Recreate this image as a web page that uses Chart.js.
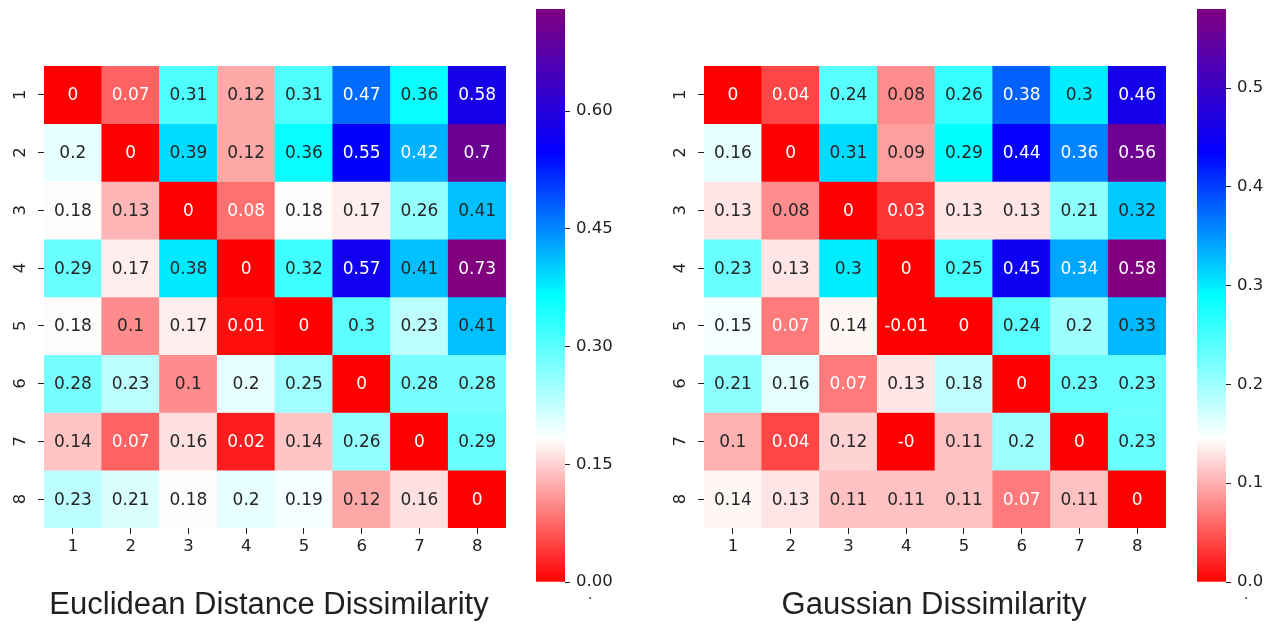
<!DOCTYPE html>
<html>
<head>
<meta charset="utf-8">
<script src="https://cdn.jsdelivr.net/npm/chart.js@4.4.1/dist/chart.umd.min.js"></script>
<style>
  body { margin: 0; background: #fff; width: 1275px; height: 624px; overflow: hidden; position: relative; }
  canvas { position: absolute; top: 0; }
  .title { position: absolute; top: 588px; transform: translateX(-50%); white-space: nowrap;
           font-family: "Liberation Sans", Arial, sans-serif; font-size: 31px; line-height: 31px; color: #231f20; }
  .dot { position: absolute; top: 586px; font-family: "DejaVu Sans"; font-size: 14px; color: #222; }
</style>
</head>
<body>
<canvas id="heatL" width="520" height="624" style="left:0px"></canvas>
<canvas id="barL" width="110" height="624" style="left:520px"></canvas>
<canvas id="heatR" width="520" height="624" style="left:660px"></canvas>
<canvas id="barR" width="94" height="624" style="left:1181px"></canvas>
<div class="title" style="left:269px">Euclidean Distance Dissimilarity</div>
<div class="title" style="left:934px">Gaussian Dissimilarity</div>
<span class="dot" style="left:588px">.</span>
<span class="dot" style="left:1244px">.</span>
<script>
// axis labels
const colLabels = ['1', '2', '3', '4', '5', '6', '7', '8'];
const rowLabels = ['1', '2', '3', '4', '5', '6', '7', '8'];

// Euclidean distance dissimilarity (rows 1..8)
const euclidean = [
  [0, 0.07, 0.31, 0.12, 0.31, 0.47, 0.36, 0.58],
  [0.2, 0, 0.39, 0.12, 0.36, 0.55, 0.42, 0.7],
  [0.18, 0.13, 0, 0.08, 0.18, 0.17, 0.26, 0.41],
  [0.29, 0.17, 0.38, 0, 0.32, 0.57, 0.41, 0.73],
  [0.18, 0.1, 0.17, 0.01, 0, 0.3, 0.23, 0.41],
  [0.28, 0.23, 0.1, 0.2, 0.25, 0, 0.28, 0.28],
  [0.14, 0.07, 0.16, 0.02, 0.14, 0.26, 0, 0.29],
  [0.23, 0.21, 0.18, 0.2, 0.19, 0.12, 0.16, 0]
];

// Gaussian dissimilarity (rows 1..8)
const gaussian = [
  [0, 0.04, 0.24, 0.08, 0.26, 0.38, 0.3, 0.46],
  [0.16, 0, 0.31, 0.09, 0.29, 0.44, 0.36, 0.56],
  [0.13, 0.08, 0, 0.03, 0.13, 0.13, 0.21, 0.32],
  [0.23, 0.13, 0.3, 0, 0.25, 0.45, 0.34, 0.58],
  [0.15, 0.07, 0.14, -0.01, 0, 0.24, 0.2, 0.33],
  [0.21, 0.16, 0.07, 0.13, 0.18, 0, 0.23, 0.23],
  [0.1, 0.04, 0.12, -0, 0.11, 0.2, 0, 0.23],
  [0.14, 0.13, 0.11, 0.11, 0.11, 0.07, 0.11, 0]
];

// colorbar ticks
const euclidTicks = [0, 0.15, 0.30, 0.45, 0.60];
const gaussTicks = [0, 0.1, 0.2, 0.3, 0.4, 0.5];

// red -> white -> cyan -> blue -> purple
const cmapStops = [[255, 0, 0], [255, 255, 255], [0, 255, 255], [0, 0, 255], [128, 0, 128]];

Chart.defaults.font.family = 'DejaVu Sans';

function cmapRGB(t) {
  t = Math.max(0, Math.min(1, t));
  const n = cmapStops.length - 1;
  const i = Math.min(n - 1, Math.floor(t * n));
  const f = t * n - i;
  const a = cmapStops[i], b = cmapStops[i + 1];
  return a.map((c, k) => Math.round(c + (b[k] - c) * f));
}
function rgbStr(c) { return 'rgb(' + c.join(',') + ')'; }

function luminance(c) {
  const lin = c.map(v => { v /= 255; return v <= 0.03928 ? v / 12.92 : Math.pow((v + 0.055) / 1.055, 2.4); });
  return 0.2126 * lin[0] + 0.7152 * lin[1] + 0.0722 * lin[2];
}

function fmt(v) {
  if (Object.is(v, -0)) return '-0';
  return String(v);
}

const annotate = {
  id: 'annotate',
  afterDatasetsDraw(chart) {
    const ctx = chart.ctx;
    const m = chart.options.plugins.annotate;
    ctx.save();
    ctx.font = '17px "DejaVu Sans"';
    ctx.textAlign = 'center';
    ctx.textBaseline = 'middle';
    chart.data.datasets.forEach((ds, r) => {
      const meta = chart.getDatasetMeta(r);
      meta.data.forEach((bar, c) => {
        const v = m.matrix[r][c];
        const col = cmapRGB(v / m.vmax);
        ctx.fillStyle = luminance(col) > 0.408 ? '#262626' : '#ffffff';
        ctx.fillText(fmt(v), bar.x, (bar.y + bar.base) / 2 + 1);
      });
    });
    // rotated row labels
    ctx.font = '16.5px "DejaVu Sans"';
    ctx.fillStyle = '#222';
    chart.data.datasets.forEach((ds, r) => {
      const bar = chart.getDatasetMeta(r).data[0];
      ctx.save();
      ctx.translate(chart.chartArea.left - 23, (bar.y + bar.base) / 2);
      ctx.rotate(-Math.PI / 2);
      ctx.fillText(rowLabels[r], 0, 0);
      ctx.restore();
    });
    ctx.restore();
  }
};

function heatmap(id, matrix) {
  const vmax = Math.max(...matrix.flat());
  return new Chart(document.getElementById(id), {
    type: 'bar',
    data: {
      labels: colLabels,
      datasets: matrix.map((row, r) => ({
        data: row.map(() => [r, r + 1]),
        backgroundColor: row.map(v => rgbStr(cmapRGB(v / vmax))),
        borderWidth: 0,
        barPercentage: 1,
        categoryPercentage: 1,
        grouped: false
      }))
    },
    options: {
      responsive: false,
      animation: false,
      devicePixelRatio: 1,
      layout: { padding: { top: 66, right: 14, left: 0, bottom: 0 } },
      plugins: { legend: { display: false }, tooltip: { enabled: false }, annotate: { matrix, vmax } },
      scales: {
        x: {
          type: 'category',
          offset: true,
          grid: { offset: false, drawOnChartArea: false, drawTicks: true, tickLength: 6, tickColor: '#222' },
          border: { display: false },
          ticks: { color: '#222', font: { size: 16.5 }, padding: 3, maxRotation: 0 },
          afterFit(s) { s.height = 96; }
        },
        y: {
          type: 'linear',
          min: 0, max: 8, reverse: true,
          afterBuildTicks(s) { s.ticks = rowLabels.map((_, i) => ({ value: i + 0.5 })); },
          grid: { drawOnChartArea: false, drawTicks: true, tickLength: 6, tickColor: '#222' },
          border: { display: false },
          ticks: { display: false },
          afterFit(s) { s.width = 44; }
        }
      }
    },
    plugins: [annotate]
  });
}

function colorbar(id, matrix, ticks, digits) {
  const vmax = Math.max(...matrix.flat());
  return new Chart(document.getElementById(id), {
    type: 'bar',
    data: {
      labels: [''],
      datasets: [{
        data: [[0, vmax]],
        borderWidth: 0,
        barPercentage: 1,
        categoryPercentage: 1,
        backgroundColor(ctx) {
          const area = ctx.chart.chartArea;
          if (!area) return 'red';
          const g = ctx.chart.ctx.createLinearGradient(0, area.bottom, 0, area.top);
          cmapStops.forEach((c, i) => g.addColorStop(i / (cmapStops.length - 1), rgbStr(c)));
          return g;
        }
      }]
    },
    options: {
      responsive: false,
      animation: false,
      devicePixelRatio: 1,
      layout: { padding: { top: 9, left: 16, right: 0, bottom: 42 } },
      plugins: { legend: { display: false }, tooltip: { enabled: false } },
      scales: {
        x: { display: false },
        y: {
          position: 'right',
          min: 0, max: vmax,
          afterBuildTicks(s) { s.ticks = ticks.map(v => ({ value: v })); },
          grid: { drawOnChartArea: false, drawTicks: true, tickLength: 5, tickColor: '#222' },
          border: { display: false },
          ticks: { color: '#222', font: { size: 16.5 }, padding: 6, callback: v => v.toFixed(digits) },
          afterFit(s) {
            s.width = s.chart.width - 16 - 29;
            s.paddingTop = 0;
            s.paddingBottom = 0;
          }
        }
      }
    }
  });
}

heatmap('heatL', euclidean);
colorbar('barL', euclidean, euclidTicks, 2);
heatmap('heatR', gaussian);
colorbar('barR', gaussian, gaussTicks, 1);
</script>
</body>
</html>
